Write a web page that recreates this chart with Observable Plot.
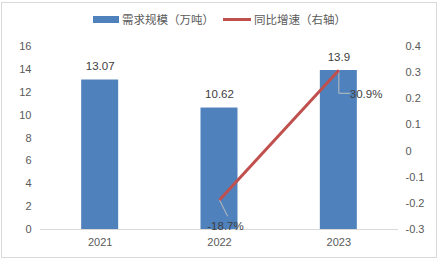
<!DOCTYPE html>
<html>
<head>
<meta charset="utf-8">
<script src="https://cdn.jsdelivr.net/npm/d3@7"></script>
<script src="https://cdn.jsdelivr.net/npm/@observablehq/plot@0.6"></script>
<style>
  html, body { margin: 0; padding: 0; background: #fff; }
  #wrap { position: relative; width: 444px; height: 260px; overflow: hidden; }
  #frame { position: absolute; left: 1px; top: 2px; width: 436px; height: 256px; border: 1px solid #d9d9d9; box-sizing: border-box; }
  #legend { position: absolute; left: 93px; top: 11px; display: flex; align-items: center; font-family: "Noto Sans CJK SC", sans-serif; font-size: 11.5px; color: #595959; white-space: nowrap; }
  .sw-bar { width: 26px; height: 7px; background: #4f81bd; margin-right: 3px; }
  .sw-line { width: 28px; height: 3px; background: #c0504d; margin-right: 3px; margin-left: 9px; }
  #chart { position: absolute; left: 0; top: 0; }
</style>
</head>
<body>
<div id="wrap">
  <div id="frame"></div>
  <div id="chart"></div>
  <div id="legend"></div>
</div>
<script>
const years = [2021, 2022, 2023];
const demand = [13.07, 10.62, 13.9];
const growthYears = [2022, 2023];
const growth = [-0.187, 0.309];
const leftTicks = [0, 2, 4, 6, 8, 10, 12, 14, 16];
const rightTicks = [-0.3, -0.2, -0.1, 0, 0.1, 0.2, 0.3, 0.4];
const seriesNames = ["需求规模（万吨）", "同比增速（右轴）"];

// legend
const legend = document.getElementById("legend");
legend.innerHTML = `<div class="sw-bar"></div><span>${seriesNames[0]}</span><div class="sw-line"></div><span>${seriesNames[1]}</span>`;

const W = 444, H = 260;
const mL = 40, mR = 46, mT = 46, mB = 31;
const xDomain = [2020.5, 2023.5];
const leftDomain = [0, 16];
const rightDomain = [-0.3, 0.4];
const toLeft = v => (v - rightDomain[0]) / (rightDomain[1] - rightDomain[0]) * (leftDomain[1] - leftDomain[0]) + leftDomain[0];
const fromLeft = v => (v - leftDomain[0]) / (leftDomain[1] - leftDomain[0]) * (rightDomain[1] - rightDomain[0]) + rightDomain[0];

// pixel helpers for style offsets (leader lines)
const pxPerX = (W - mL - mR) / (xDomain[1] - xDomain[0]);
const pxPerY = (H - mT - mB) / (leftDomain[1] - leftDomain[0]);

const bars = years.map((y, i) => ({year: y, v: demand[i]}));
const gdata = growthYears.map((y, i) => ({year: y, g: growth[i], gl: toLeft(growth[i])}));
const pct = d => (d.g * 100).toFixed(1) + "%";

// leader line offsets in pixels (style)
const leaderPx = [
  [[0, 0], [8, 16]],
  [[0, 0], [0, 23], [11, 23]]
];
const leaders = [];
gdata.forEach((d, i) => {
  leaderPx[i].forEach(([dx, dy]) => leaders.push({k: i, x: d.year + dx / pxPerX, y: d.gl - dy / pxPerY}));
});

const halfBar = 0.155;

const chart = Plot.plot({
  width: W,
  height: H,
  marginLeft: mL,
  marginRight: mR,
  marginTop: mT,
  marginBottom: mB,
  style: {fontFamily: "'Liberation Sans', Arial, sans-serif", fontSize: "11px", color: "#595959", background: "transparent"},
  x: {type: "linear", domain: xDomain, axis: null},
  y: {domain: leftDomain, axis: null},
  marks: [
    Plot.axisY(leftTicks, {anchor: "left", tickSize: 0, tickPadding: 9, fontSize: 11}),
    Plot.axisY(rightTicks.map(toLeft), {
      anchor: "right", tickSize: 0, tickPadding: 7, textAnchor: "start", fontSize: 11,
      tickFormat: v => { const r = Math.round(fromLeft(v) * 10) / 10; return r === 0 ? "0" : String(r); }
    }),
    Plot.axisX(years, {tickSize: 0, tickPadding: 9, tickFormat: d => String(d), fontSize: 11}),
    Plot.rectY(bars, {x1: d => d.year - halfBar, x2: d => d.year + halfBar, y1: 0, y2: "v", fill: "#4f81bd"}),
    Plot.ruleY([0], {stroke: "#d9d9d9"}),
    Plot.text(bars, {x: "year", y: "v", text: d => String(d.v), dy: -13.5, fill: "#404040", fontSize: 11.5}),
    Plot.line(leaders, {x: "x", y: "y", z: "k", stroke: "#bfbfbf", strokeWidth: 1, curve: "linear"}),
    Plot.line(gdata, {x: "year", y: "gl", stroke: "#c0504d", strokeWidth: 3, strokeLinecap: "butt"}),
    Plot.text([gdata[0]], {x: "year", y: "gl", text: pct, dx: 6, dy: 26, fill: "#404040", fontSize: 11.5}),
    Plot.text([gdata[1]], {x: "year", y: "gl", text: pct, dx: 11, dy: 24, textAnchor: "start", fill: "#404040", fontSize: 11.5})
  ]
});
document.getElementById("chart").appendChild(chart);
</script>
</body>
</html>
